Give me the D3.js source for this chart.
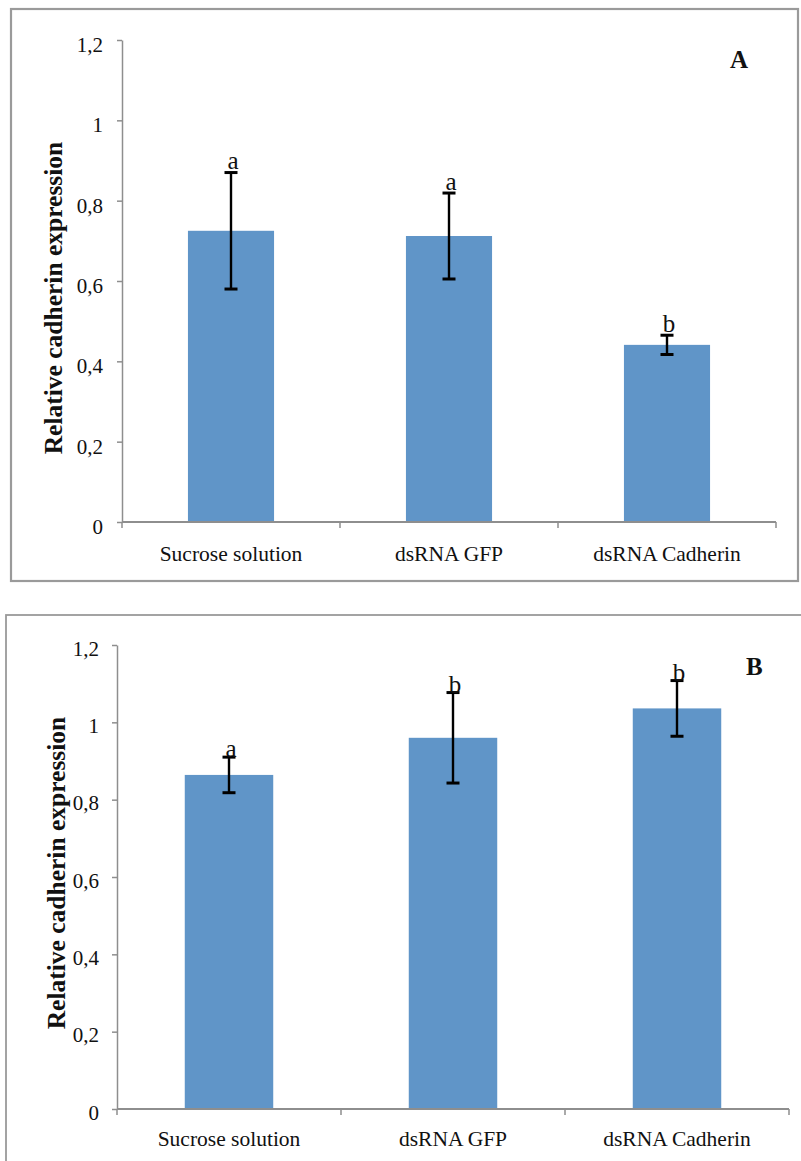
<!DOCTYPE html>
<html>
<head>
<meta charset="utf-8">
<script src="https://cdn.jsdelivr.net/npm/d3@7"></script>
<style>
  body { margin: 0; background: #fff; }
  svg { display: block; font-family: "Liberation Serif", "Times New Roman", serif; }
</style>
</head>
<body>
<div class="chart"></div>
<script>
const categories = ['Sucrose solution', 'dsRNA GFP', 'dsRNA Cadherin'];
const yTicks = [0, 0.2, 0.4, 0.6, 0.8, 1, 1.2];

const meansA = [0.725, 0.712, 0.441];
const errorsA = [0.145, 0.107, 0.024];
const lettersA = ['a', 'a', 'b'];

const meansB = [0.864, 0.960, 1.036];
const errorsB = [0.046, 0.117, 0.072];
const lettersB = ['a', 'b', 'b'];

const width = 801;
const height = 1161;
const barColor = '#6095c8';
const axisColor = '#8e8e8e';

const svg = d3.select('.chart')
              .append('svg:svg')
              .attr('width', width)
              .attr('height', height)
              .attr('viewBox', [0, 0, width, height]);

function drawPanel(p) {
  const g = svg.append('svg:g');

  // frame round the panel
  g.append('svg:rect')
   .attr('x', p.frame[0]).attr('y', p.frame[1])
   .attr('width', p.frame[2]).attr('height', p.frame[3])
   .attr('fill', 'none')
   .attr('stroke', '#9a9a9a')
   .attr('stroke-width', p.frameWidth);

  const x = d3.scaleBand()
              .domain(categories)
              .range([p.left, p.right])
              .padding(0);

  const y = d3.scaleLinear()
              .domain([0, 1.2])
              .range([p.bottom, p.top]);

  const barW = x.bandwidth() * 0.395;

  // y axis
  const yAxis = g.append('svg:g')
    .attr('transform', `translate(${p.left},0)`)
    .call(d3.axisLeft(y)
            .tickValues(yTicks)
            .tickSize(5)
            .tickPadding(p.tickPad)
            .tickSizeOuter(0)
            .tickFormat(d => String(d).replace('.', ',')));
  yAxis.select('.domain').attr('stroke', axisColor).attr('stroke-width', 1.5);
  yAxis.selectAll('.tick line').attr('stroke', axisColor).attr('stroke-width', 1.5);
  yAxis.selectAll('.tick text')
       .attr('dy', p.tickDy)
       .attr('fill', '#111')
       .style('font-size', '21px')
       .style('font-family', '"Liberation Serif", serif');

  // bars
  g.selectAll('rect.bar')
   .data(p.means)
   .enter().append('svg:rect')
   .attr('class', 'bar')
   .attr('x', (d, i) => x(categories[i]) + (x.bandwidth() - barW) / 2)
   .attr('y', d => y(d))
   .attr('width', barW)
   .attr('height', d => y(0) - y(d))
   .attr('fill', barColor);

  // x axis: line, boundary ticks, labels
  const xAxis = g.append('svg:g')
    .attr('transform', `translate(0,${p.bottom})`)
    .call(d3.axisBottom(x).tickSize(0).tickPadding(p.catPad));
  xAxis.select('.domain').remove();
  xAxis.selectAll('.tick text')
       .attr('fill', '#111')
       .style('font-size', '21.5px')
       .style('font-family', '"Liberation Serif", serif');

  g.append('svg:line')
   .attr('x1', p.left).attr('x2', p.right)
   .attr('y1', y(0)).attr('y2', y(0))
   .attr('stroke', axisColor)
   .attr('stroke-width', 2);

  const bounds = d3.range(categories.length + 1)
                   .map(i => p.left + i * x.step());
  g.selectAll('line.xtick')
   .data(bounds)
   .enter().append('svg:line')
   .attr('class', 'xtick')
   .attr('x1', d => d).attr('x2', d => d)
   .attr('y1', y(0)).attr('y2', y(0) + 6)
   .attr('stroke', axisColor)
   .attr('stroke-width', 1.5);

  // error bars
  const cx = i => x(categories[i]) + x.bandwidth() / 2;
  const eb = g.selectAll('g.err')
              .data(p.means)
              .enter().append('svg:g')
              .attr('class', 'err');
  eb.append('svg:line')
    .attr('x1', (d, i) => cx(i)).attr('x2', (d, i) => cx(i))
    .attr('y1', (d, i) => y(d + p.errors[i]))
    .attr('y2', (d, i) => y(d - p.errors[i]))
    .attr('stroke', '#000')
    .attr('stroke-width', 2.4);
  [1, -1].forEach(s => {
    eb.append('svg:line')
      .attr('x1', (d, i) => cx(i) - 6.5).attr('x2', (d, i) => cx(i) + 6.5)
      .attr('y1', (d, i) => y(d + s * p.errors[i]))
      .attr('y2', (d, i) => y(d + s * p.errors[i]))
      .attr('stroke', '#000')
      .attr('stroke-width', 3);
  });

  // significance letters
  g.selectAll('text.sig')
   .data(p.letters)
   .enter().append('svg:text')
   .attr('class', 'sig')
   .attr('x', (d, i) => cx(i) + 2)
   .attr('y', (d, i) => y(p.means[i] + p.errors[i]) - p.sigGap)
   .attr('text-anchor', 'middle')
   .attr('fill', '#111')
   .style('font-size', '25px')
   .text(d => d);

  // axis title
  g.append('svg:text')
   .attr('transform', `translate(${p.titleX},${p.titleY}) rotate(-90)`)
   .attr('text-anchor', 'middle')
   .attr('fill', '#111')
   .style('font-size', '25.5px')
   .style('font-weight', 'bold')
   .text('Relative cadherin expression');

  // panel letter
  g.append('svg:text')
   .attr('x', p.tag[0]).attr('y', p.tag[1])
   .attr('fill', '#111')
   .style('font-size', '25px')
   .style('font-weight', 'bold')
   .text(p.tagText);
}

drawPanel({
  frame: [11, 9, 787, 572], frameWidth: 2.2,
  left: 122, right: 776, top: 40, bottom: 522,
  tickPad: 14, tickDy: '0.55em', catPad: 24,
  means: meansA, errors: errorsA, letters: lettersA, sigGap: 3.5,
  titleX: 62, titleY: 298,
  tag: [730, 68], tagText: 'A'
});

drawPanel({
  frame: [6, 615, 830, 600], frameWidth: 1.8,
  left: 117, right: 789, top: 645, bottom: 1109,
  tickPad: 13, tickDy: '0.48em', catPad: 22,
  means: meansB, errors: errorsB, letters: lettersB, sigGap: 0,
  titleX: 65, titleY: 873,
  tag: [746, 675], tagText: 'B'
});
</script>
</body>
</html>
